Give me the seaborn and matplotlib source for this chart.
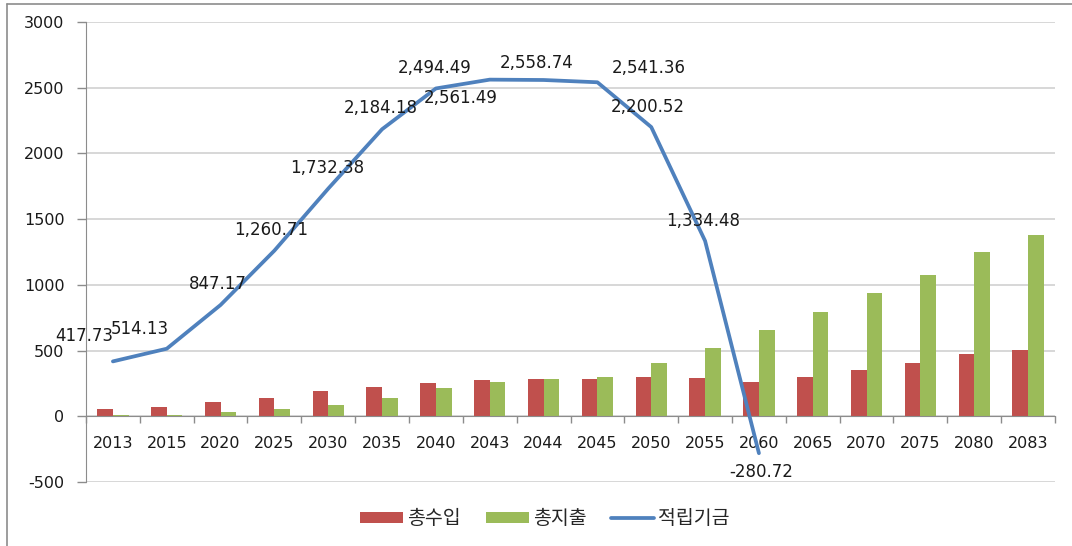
import matplotlib
matplotlib.use("Agg")
import matplotlib.pyplot as plt
from matplotlib.lines import Line2D
from matplotlib.patches import Patch
from matplotlib.ticker import FixedLocator, MultipleLocator
import numpy as np
import pandas as pd
import seaborn as sns

years = ["2013", "2015", "2020", "2025", "2030", "2035", "2040", "2043", "2044",
         "2045", "2050", "2055", "2060", "2065", "2070", "2075", "2080", "2083"]
income = [52, 68, 106, 137, 190, 220, 251, 273, 281,
          281, 301, 291, 258, 301, 352, 402, 476, 506]
expense = [10, 12, 36, 55, 86, 137, 213, 261, 281,
           298, 402, 516, 653, 795, 939, 1076, 1250, 1380]
fund = [417.73, 514.13, 847.17, 1260.71, 1732.38, 2184.18, 2494.49, 2561.49,
        2558.74, 2541.36, 2200.52, 1334.48, -280.72]
# label offsets (pixels) relative to each fund point
label_dx = [-29, -27, -3, -3, -1, -1, -1, -29, -7, 51, -3, -2, 2]
label_dy = [25, 20, 21, 21, 21, 21, 20, -18, 17, 14, 20, 20, -19]

series_names = ["총수입", "총지출", "적립기금"]
RED, GREEN, BLUE = "#C0504D", "#9BBB59", "#4F81BD"

sns.set_style("white")
plt.rcParams["font.family"] = ["DejaVu Sans", "Noto Sans CJK KR"]
plt.rcParams["axes.unicode_minus"] = False

fig = plt.figure(figsize=(10.72, 5.46), dpi=100)
ax = fig.add_axes([86 / 1072, 1 - 482 / 546, (1055 - 86) / 1072, (482 - 22) / 546])

bars = pd.DataFrame({
    "year": years * 2,
    "value": income + expense,
    "series": [series_names[0]] * len(years) + [series_names[1]] * len(years),
})
sns.barplot(data=bars, x="year", y="value", hue="series", order=years,
            hue_order=series_names[:2], palette=[RED, GREEN], width=0.58,
            saturation=1, dodge=True, legend=False, ax=ax, zorder=2,
            linewidth=0, edgecolor="none")

line = pd.DataFrame({"pos": np.arange(len(fund)), "fund": fund})
sns.lineplot(data=line, x="pos", y="fund", color=BLUE, linewidth=2.7, ax=ax,
             zorder=4, solid_joinstyle="round", solid_capstyle="round")

for i, v in enumerate(fund):
    ax.annotate(f"{v:,.2f}", (i, v), xytext=(label_dx[i], label_dy[i]),
                textcoords="offset pixels", ha="center", va="center",
                fontsize=12, color="#1a1a1a", zorder=5)

ax.set_xlim(-0.5, len(years) - 0.5)
ax.set_ylim(-500, 3000)
ax.yaxis.set_major_locator(MultipleLocator(500))
ax.grid(axis="y", color="#CDCDCD", linewidth=1.1, zorder=0)
ax.grid(axis="x", visible=False)
ax.set_axisbelow(True)
ax.set_xlabel("")
ax.set_ylabel("")

for s in ["top", "right"]:
    ax.spines[s].set_visible(False)
ax.spines["left"].set_color("#8C8C8C")
ax.spines["bottom"].set_color("#8C8C8C")
ax.spines["bottom"].set_position(("data", 0))

ax.xaxis.set_minor_locator(FixedLocator(np.arange(len(years) + 1) - 0.5))
ax.tick_params(axis="x", which="major", length=0, pad=14, labelsize=11.5,
               labelcolor="#1a1a1a")
ax.tick_params(axis="x", which="minor", length=5, width=1, color="#8C8C8C",
               direction="out", bottom=True)
ax.tick_params(axis="y", which="major", length=6.5, width=1, color="#8C8C8C",
               direction="out", left=True, pad=9, labelsize=11.5,
               labelcolor="#1a1a1a")

handles = [Patch(facecolor=RED, edgecolor="none"),
           Patch(facecolor=GREEN, edgecolor="none"),
           Line2D([0], [0], color=BLUE, linewidth=2.7)]
fig.legend(handles, series_names, loc="center", ncol=3,
           bbox_to_anchor=(545 / 1072, 1 - 519 / 546), frameon=False,
           prop={"family": ["Noto Sans CJK KR", "DejaVu Sans"], "size": 14},
           handlelength=2.2, handleheight=0.45, handletextpad=0.2,
           columnspacing=1.3)

# outer frame on the left and top edges
fig.add_artist(Line2D([6.5 / 1072, 6.5 / 1072], [0, 1 - 4 / 546],
                      transform=fig.transFigure, color="#8C8C8C", linewidth=1.2))
fig.add_artist(Line2D([6.5 / 1072, 1], [1 - 4 / 546, 1 - 4 / 546],
                      transform=fig.transFigure, color="#8C8C8C", linewidth=1.2))

fig.savefig("out.png", dpi=100)
